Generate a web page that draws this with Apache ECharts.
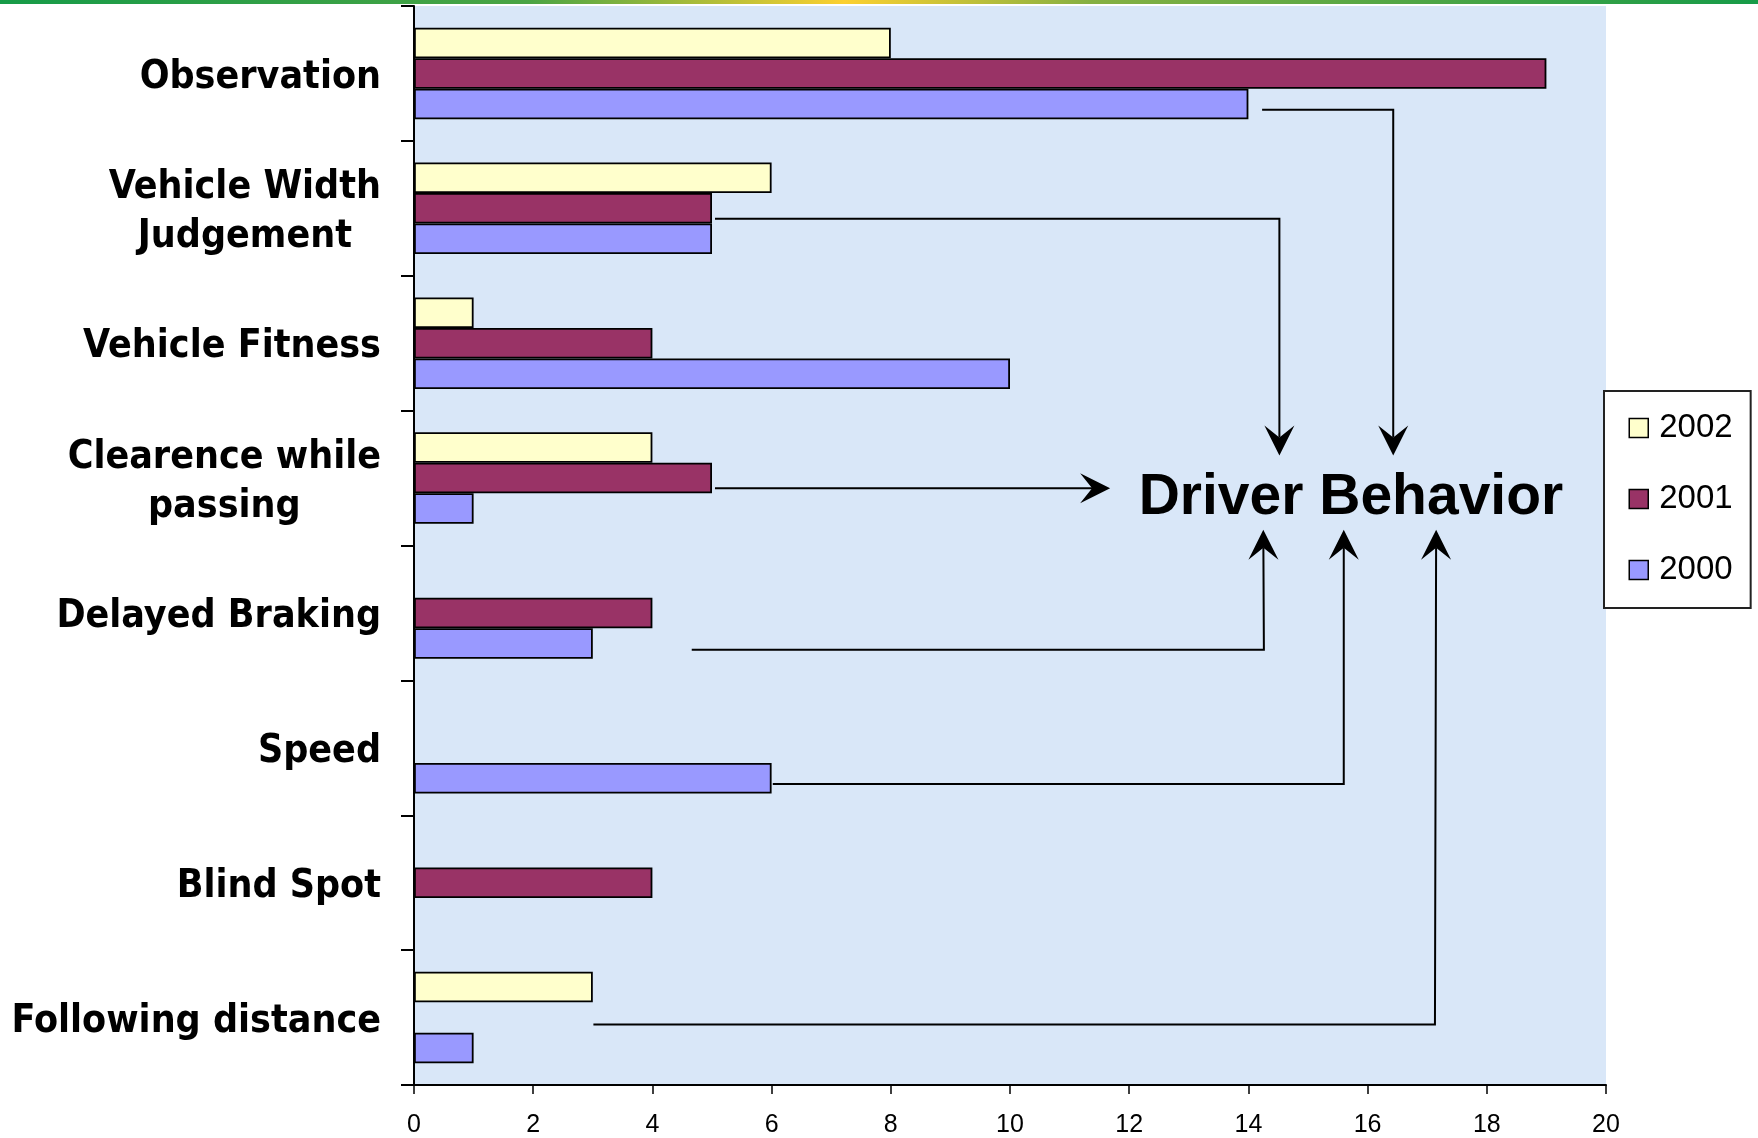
<!DOCTYPE html>
<html>
<head>
<meta charset="utf-8">
<script src="https://cdn.jsdelivr.net/npm/echarts@6/dist/echarts.min.js"></script>
<style>
  html, body { margin: 0; padding: 0; background: #ffffff; }
  #chart { width: 1758px; height: 1138px; }
</style>
</head>
<body>
<div id="chart"></div>
<script>
// ---- data ----
const categories = [
  'Observation',
  'Vehicle Width\nJudgement',
  'Vehicle Fitness',
  'Clearence while\npassing',
  'Delayed Braking',
  'Speed',
  'Blind Spot',
  'Following distance'
];
const seriesNames = ['2002', '2001', '2000'];
const values2002 = [8, 6, 1, 4, null, null, null, 3];
const values2001 = [19, 5, 4, 5, 4, null, 4, null];
const values2000 = [14, 5, 10, 1, 3, 6, null, 1];
const xTicks = { min: 0, max: 20, interval: 2 };

// annotation: arrows to "Driver Behavior" (x in data units, y in category-band units)
const arrowPaths = [
  [[14.23, 0.769], [16.43, 0.769], [16.43, 3.333]],
  [[5.05, 1.578], [14.52, 1.578], [14.52, 3.333]],
  [[5.05, 3.575], [11.68, 3.575]],
  [[4.66, 4.773], [14.26, 4.773], [14.25, 3.883]],
  [[6.02, 5.769], [15.6, 5.769], [15.6, 3.883]],
  [[3.01, 7.552], [17.13, 7.552], [17.15, 3.883]]
];
const annotationText = 'Driver Behavior';
const annotationPos = [15.72, 3.65];

// ---- chart ----
const chart = echarts.init(document.getElementById('chart'), null, { renderer: 'canvas' });
const catFont = "'DejaVu Sans Condensed', 'Liberation Sans', sans-serif";
const colors = ['#FFFFCC', '#993366', '#9999FF'];
const seriesValues = [values2002, values2001, values2000];

const option = {
  animation: false,
  backgroundColor: '#ffffff',
  grid: {
    left: 414, right: 152, top: 6, bottom: 50.4,
    show: true, backgroundColor: '#d9e7f8', borderWidth: 0
  },
  legend: {
    orient: 'vertical',
    left: 1604, top: 391,
    padding: [20.5, 18, 21.5, 24.5],
    data: seriesNames,
    itemWidth: 19, itemHeight: 19, itemGap: 38,
    icon: 'rect',
    backgroundColor: '#ffffff',
    borderColor: '#222222', borderWidth: 2,
    itemStyle: { borderColor: '#000', borderWidth: 1.5 },
    textStyle: { fontFamily: "'Liberation Sans', Arial, sans-serif", fontSize: 33, color: '#000', padding: [0, 0, 0, 6] }
  },
  xAxis: {
    type: 'value',
    min: xTicks.min, max: xTicks.max, interval: xTicks.interval,
    axisLine: { show: true, onZero: false, lineStyle: { color: '#000', width: 2 } },
    axisTick: { show: true, length: 9, lineStyle: { color: '#000', width: 1.5 } },
    splitLine: { show: false },
    axisLabel: { fontFamily: "'Liberation Sans', Arial, sans-serif", fontSize: 25, color: '#000', margin: 28 }
  },
  yAxis: [
    {
      type: 'category',
      data: categories,
      inverse: true,
      axisLine: { show: true, lineStyle: { color: '#000', width: 2 } },
      axisTick: { show: true, length: 13, interval: 0, lineStyle: { color: '#000', width: 2 } },
      splitLine: { show: false },
      axisLabel: {
        interval: 0,
        margin: 33,
        align: 'right',
        padding: [8, 0, 0, 0],
        formatter: function (v) {
          return v.split('\n').map(function (l) { return '{c|' + l + '}'; }).join('\n');
        },
        rich: {
          c: { align: 'center', fontFamily: catFont, fontWeight: 'bold', fontSize: 39, lineHeight: 49, color: '#000' }
        }
      }
    },
    {
      type: 'value', show: false, min: 0, max: categories.length, inverse: true,
      axisLine: { show: false }, splitLine: { show: false }
    }
  ],
  series: seriesNames.map(function (name, i) {
    return {
      name: name,
      type: 'bar',
      yAxisIndex: 0,
      data: seriesValues[i],
      barWidth: 30.5,
      barGap: '0%',
      itemStyle: { color: colors[i], borderColor: '#000', borderWidth: 1.8 }
    };
  })
};
chart.setOption(option);

// ---- annotation graphics ----
const graphics = [];
graphics.push({
  type: 'rect', left: 0, top: 0, z: 100,
  shape: { x: 0, y: 0, width: 1758, height: 4 },
  style: {
    fill: new echarts.graphic.LinearGradient(0, 0, 1, 0, [
      { offset: 0, color: '#169b48' },
      { offset: 0.3, color: '#4aa444' },
      { offset: 0.48, color: '#fcd030' },
      { offset: 0.62, color: '#86b042' },
      { offset: 1, color: '#169b48' }
    ])
  }
});
const finder = { xAxisIndex: 0, yAxisIndex: 1 };
const L = 30, W = 15, N = 18;
arrowPaths.forEach(function (path) {
  const pts = path.map(function (p) { return chart.convertToPixel(finder, p); });
  const tip = pts[pts.length - 1];
  const prev = pts[pts.length - 2];
  let dx = tip[0] - prev[0], dy = tip[1] - prev[1];
  const len = Math.sqrt(dx * dx + dy * dy);
  dx /= len; dy /= len;
  const nx = -dy, ny = dx;
  const linePts = pts.slice(0, -1).concat([[tip[0] - dx * N, tip[1] - dy * N]]);
  graphics.push({
    type: 'polyline', z: 50, silent: true,
    shape: { points: linePts },
    style: { stroke: '#000', lineWidth: 2, fill: null, lineJoin: 'miter' }
  });
  graphics.push({
    type: 'polygon', z: 51, silent: true,
    shape: { points: [
      tip,
      [tip[0] - dx * L + nx * W, tip[1] - dy * L + ny * W],
      [tip[0] - dx * N, tip[1] - dy * N],
      [tip[0] - dx * L - nx * W, tip[1] - dy * L - ny * W]
    ] },
    style: { fill: '#000', stroke: null }
  });
});
const tp = chart.convertToPixel(finder, annotationPos);
graphics.push({
  type: 'text', z: 52, silent: true, x: tp[0], y: tp[1],
  style: {
    text: annotationText, fill: '#000',
    fontFamily: "'Liberation Sans', Arial, sans-serif", fontWeight: 'bold', fontSize: 57,
    align: 'center', verticalAlign: 'middle'
  }
});
chart.setOption({ graphic: graphics });
</script>
</body>
</html>
